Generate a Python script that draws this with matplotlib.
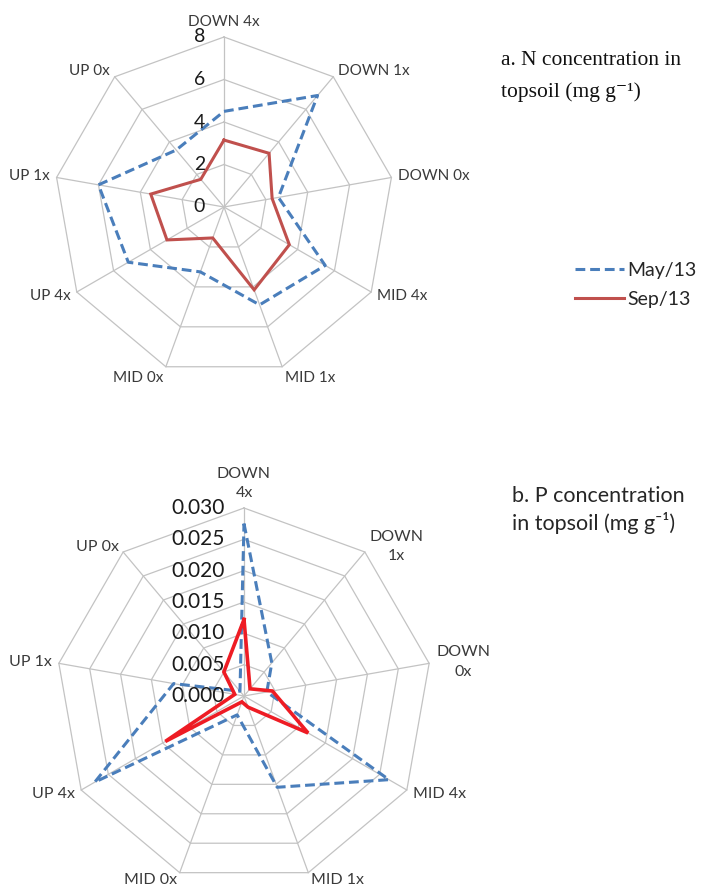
import numpy as np
import matplotlib
matplotlib.use("Agg")
import matplotlib.pyplot as plt
from matplotlib.lines import Line2D

# Sites, clockwise from the top
categories_n = ["DOWN 4x", "DOWN 1x", "DOWN 0x", "MID 4x", "MID 1x",
                "MID 0x", "UP 4x", "UP 1x", "UP 0x"]
categories_p = ["DOWN\n4x", "DOWN\n1x", "DOWN\n0x", "MID 4x", "MID 1x",
                "MID 0x", "UP 4x", "UP 1x", "UP 0x"]

# N concentration in topsoil (mg g-1)
n_may = [4.5, 6.85, 2.6, 5.5, 4.9, 3.25, 5.2, 6.0, 3.5]
n_sep = [3.15, 3.3, 2.3, 3.55, 4.15, 1.55, 3.1, 3.5, 1.7]
n_ticks = [0, 2, 4, 6, 8]

# P concentration in topsoil (mg g-1)
p_may = [0.0275, 0.0069, 0.0037, 0.0267, 0.0155, 0.0032, 0.0275, 0.0114, 0.0010]
p_sep = [0.0122, 0.0015, 0.0046, 0.0118, 0.0019, 0.0010, 0.0145, 0.0015, 0.0050]
p_ticks = [0.000, 0.005, 0.010, 0.015, 0.020, 0.025, 0.030]

series_labels = ["May/13", "Sep/13"]

W, H = 703, 892
fig = plt.figure(figsize=(W / 100, H / 100), dpi=100)

GRID = "#c3c3c3"
BLUE = "#4a7ebb"
LABEL_FONT = ["Lato", "DejaVu Sans"]


def radar(center, radius, labels, may, sep, ticks, fmt, red, red_lw,
          lab_size, tick_size, bottom_gap):
    cx, cy = center
    rect = [(cx - radius) / W, 1 - (cy + radius) / H, 2 * radius / W, 2 * radius / H]
    ax = fig.add_axes(rect, projection="polar")
    ax.set_theta_zero_location("N")
    ax.set_theta_direction(-1)
    ax.set_ylim(0, ticks[-1])
    ax.grid(False)
    ax.spines["polar"].set_visible(False)
    ax.set_xticks([])
    ax.set_yticks([])
    ax.patch.set_alpha(0)

    n = len(labels)
    theta = np.linspace(0, 2 * np.pi, n, endpoint=False)
    closed = np.append(theta, theta[0])

    # polygon rings and spokes
    for t in ticks[1:]:
        ax.plot(closed, np.full(n + 1, t), color=GRID, lw=0.9, zorder=1,
                clip_on=False)
    for th in theta:
        ax.plot([th, th], [0, ticks[-1]], color=GRID, lw=0.9, zorder=1,
                clip_on=False)

    # data series
    ax.plot(closed, np.append(may, may[0]), color=BLUE, lw=2.2,
            linestyle=(0, (3.2, 1.6)), zorder=3, clip_on=False)
    ax.plot(closed, np.append(sep, sep[0]), color=red, lw=red_lw,
            zorder=4, clip_on=False, solid_joinstyle="miter")

    # radial value labels
    for t in ticks:
        ax.annotate(fmt.format(t), xy=(0, t), xytext=(-19, 0),
                    textcoords="offset pixels", ha="right", va="center",
                    fontsize=tick_size, color="#1a1a1a", family=LABEL_FONT)

    # category labels outside the outer ring
    for th, lab in zip(theta, labels):
        s, c = np.sin(th), np.cos(th)
        if s > 0.2:
            ha = "left"
        elif s < -0.2:
            ha = "right"
        else:
            ha = "center"
        if c > 0.9:
            va, off = "bottom", (0, 8)
        elif c < -0.9:
            va, off = "top", (7 * s, -bottom_gap)
        else:
            va, off = "center", (7 * s, 7 * c)
        ax.annotate(lab, xy=(th, ticks[-1]), xytext=off,
                    textcoords="offset pixels", ha=ha, va=va,
                    multialignment="center", linespacing=1.5,
                    fontsize=lab_size, color="#3a3a3a", family=LABEL_FONT)
    return ax


radar((224, 207), 170, categories_n, n_may, n_sep, n_ticks, "{:g}",
      "#c0504d", 2.2, 11, 14, 4)
radar((244, 696), 188, categories_p, p_may, p_sep, p_ticks, "{:.3f}",
      "#ee1c24", 2.6, 11.5, 15, 0)

# panel captions
serif = ["Liberation Serif", "DejaVu Serif"]
fig.text(501 / W, 1 - 65 / H, "a. N concentration in", family=serif,
         fontsize=15.5, va="baseline", ha="left", color="#111111")
fig.text(501 / W, 1 - 97 / H, "topsoil (mg g\u207b\u00b9)", family=serif,
         fontsize=15.5, va="baseline", ha="left", color="#111111")
fig.text(512 / W, 1 - 502 / H, "b. P concentration", family=LABEL_FONT,
         fontsize=15.5, va="baseline", ha="left", color="#262626")
fig.text(512 / W, 1 - 530 / H, "in topsoil (mg g\u207b\u00b9)", family=LABEL_FONT,
         fontsize=15.5, va="baseline", ha="left", color="#262626")

# legend
handles = [
    Line2D([], [], color=BLUE, lw=2.2, linestyle=(0, (3.2, 1.6))),
    Line2D([], [], color="#c0504d", lw=2.2),
]
fig.legend(handles, series_labels, loc="center left",
           bbox_to_anchor=(575 / W, 1 - 285 / H), frameon=False,
           borderpad=0, borderaxespad=0, handlelength=2.5, handletextpad=0.2,
           labelspacing=0.6, prop={"family": LABEL_FONT, "size": 14},
           labelcolor="#262626")

fig.savefig("out.png", dpi=100, facecolor="white")
